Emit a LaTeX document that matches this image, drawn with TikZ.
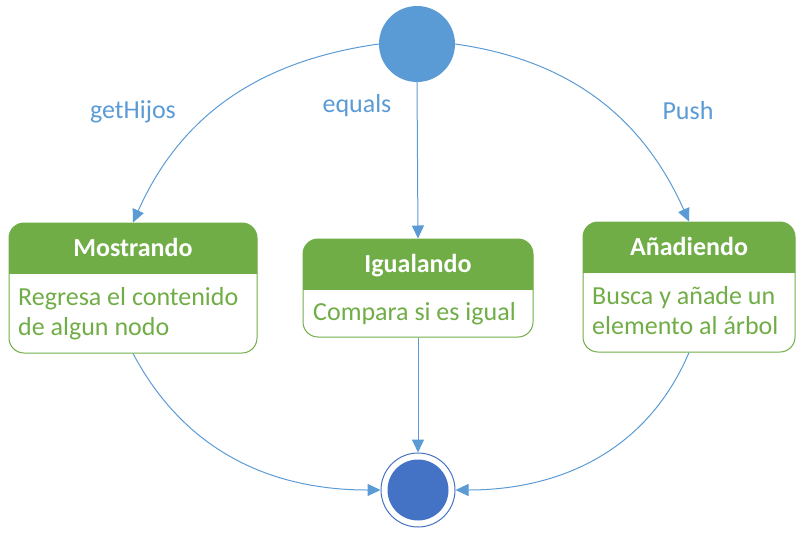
\documentclass[tikz,border=0pt]{standalone}
\usepackage{fontspec}
\setmainfont{Carlito}
\usetikzlibrary{arrows.meta}
\definecolor{hdgreen}{HTML}{70AD47}
\definecolor{flowblue}{HTML}{5B9BD5}
\definecolor{endblue}{HTML}{4472C4}
\begin{document}
\begin{tikzpicture}[x=1pt,y=1pt,
  boxframe/.style={draw=hdgreen, line width=1pt, rounded corners=15pt, inner sep=0pt, rectangle},
  titletext/.style={text=white, font=\bfseries\fontsize{26}{30}\selectfont, inner sep=0pt},
  bodytext/.style={text=hdgreen, font=\fontsize{26}{30}\selectfont, inner sep=0pt, align=left},
  lbl/.style={text=flowblue, font=\fontsize{26}{30}\selectfont, inner sep=0pt},
  flow/.style={draw=flowblue, line width=1pt, -{Triangle[length=13pt,width=12pt]}}]
\useasboundingbox (0,0) rectangle (802,-533);
% header fills
\begin{scope}
  \clip (9,-223) rectangle (257,-273);
  \fill[hdgreen, rounded corners=15pt] (9,-223) rectangle (257,-353);
\end{scope}
\begin{scope}
  \clip (303,-239) rectangle (533,-289);
  \fill[hdgreen, rounded corners=15pt] (303,-239) rectangle (533,-337);
\end{scope}
\begin{scope}
  \clip (583,-222) rectangle (795,-272);
  \fill[hdgreen, rounded corners=15pt] (583,-222) rectangle (795,-352);
\end{scope}
% frames
\node[boxframe, minimum width=248pt, minimum height=130pt] (mos) at (133,-288) {};
\node[boxframe, minimum width=230pt, minimum height=98pt] (igu) at (418,-288) {};
\node[boxframe, minimum width=212pt, minimum height=130pt] (ana) at (689,-287) {};
% titles
\node[titletext, anchor=base] (mosT) at (133,-256) {Mostrando};
\node[titletext, anchor=base] (iguT) at (418,-272) {Igualando};
\node[titletext, anchor=base] (anaT) at (689,-255) {Añadiendo};
% bodies
\node[bodytext, anchor=base west] (mosB) at (18,-335) {Regresa el contenido\\de algun nodo};
\node[bodytext, anchor=base west] (iguB) at (313,-320) {Compara si es igual};
\node[bodytext, anchor=base west] (anaB) at (592,-334) {Busca y añade un\\elemento al árbol};
% start and end
\node[circle, fill=flowblue, minimum size=76pt, inner sep=0pt] (start) at (417,-44) {};
\node[circle, draw=endblue, line width=1pt, minimum size=74pt, inner sep=0pt] (end) at (418,-490) {};
\node[circle, fill=endblue, minimum size=61pt, inner sep=0pt] (endcore) at (end.center) {};
% labels
\node[lbl, anchor=base] (l1) at (133,-118) {getHijos};
\node[lbl, anchor=base] (l2) at (357,-112) {equals};
\node[lbl, anchor=base] (l3) at (688,-119) {Push};
% connectors
\draw[flow] (start.west) to[out=188,in=66] (mos.north);
\draw[flow] (start.east) to[out=-8,in=114] (ana.north);
\draw[flow] (start.south) -- (igu.north);
\draw[flow] (mos.south) to[out=-62,in=180] (end.west);
\draw[flow] (ana.south) to[out=-113,in=0] (end.east);
\draw[flow] (igu.south) -- (end.north);
\end{tikzpicture}
\end{document}
